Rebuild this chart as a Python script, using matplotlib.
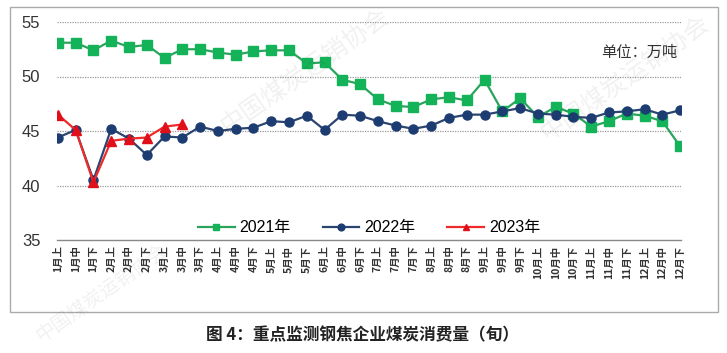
import matplotlib
matplotlib.use('Agg')
import matplotlib.pyplot as plt
import matplotlib.patches as patches

# ==========================================
# DATA
# ==========================================

months = ['1', '2', '3', '4', '5', '6', '7', '8', '9', '10', '11', '12']
parts = ['上', '中', '下']
labels = [m + '月' + p for m in months for p in parts]

y2021 = [53.1, 53.1, 52.4, 53.3, 52.7, 52.9, 51.7, 52.5, 52.5, 52.2, 52.0, 52.3,
         52.4, 52.4, 51.2, 51.3, 49.7, 49.3, 47.9, 47.3, 47.2, 47.9, 48.1, 47.8,
         49.7, 46.8, 48.0, 46.3, 47.2, 46.6, 45.4, 45.9, 46.6, 46.4, 45.9, 43.6]

y2022 = [44.4, 45.1, 40.5, 45.2, 44.3, 42.8, 44.5, 44.4, 45.4, 45.0, 45.2, 45.3,
         45.9, 45.8, 46.4, 45.1, 46.5, 46.4, 45.9, 45.5, 45.2, 45.5, 46.2, 46.5,
         46.5, 46.8, 47.1, 46.6, 46.5, 46.3, 46.2, 46.7, 46.8, 47.0, 46.5, 46.9]

y2023 = [46.5, 45.1, 40.3, 44.1, 44.3, 44.4, 45.4, 45.6]

yticks = [35, 40, 45, 50, 55]

plt.rcParams['font.family'] = ['Liberation Sans', 'Noto Sans CJK SC', 'DejaVu Sans']

# ==========================================
# FIGURE
# ==========================================

fig = plt.figure(figsize=(7.27, 3.53), dpi=100)
ax = fig.add_axes([57 / 727, 1 - 240 / 353, (681 - 57) / 727, (240 - 22) / 353])

x = list(range(len(labels)))

ax.plot(x, y2021, color='#2aa45c', lw=1.6, marker='s', ms=6.5,
        mfc='#14b35a', mec='#14b35a', label='2021年', zorder=3)
ax.plot(x, y2022, color='#2b4470', lw=1.6, marker='o', ms=6.5,
        mfc='#1c3c72', mec='#1c3c72', label='2022年', zorder=4)
ax.plot(x[:len(y2023)], y2023, color='#ee2a2a', lw=1.6, marker='^', ms=6.5,
        mfc='#e0101a', mec='#e0101a', label='2023年', zorder=5)

ax.set_xlim(-0.05, 35.05)
ax.set_ylim(35, 55)
ax.set_yticks(yticks)
ax.set_xticks(x)
ax.set_xticklabels(labels, rotation=90, fontsize=7.5, fontweight='bold',
                   color='#333333', family=['Noto Sans CJK SC', 'DejaVu Sans'])
ax.tick_params(axis='x', length=0, pad=4)
ax.tick_params(axis='y', length=0, pad=12, labelsize=12, labelcolor='#333333')

for v in yticks[1:]:
    ax.axhline(v, color='#999999', lw=0.9, ls=(0, (1, 1)), zorder=1)

for s in ['top', 'right', 'left']:
    ax.spines[s].set_visible(False)
ax.spines['bottom'].set_color('#888888')
ax.spines['bottom'].set_linewidth(1.0)

ax.legend(loc='lower center', bbox_to_anchor=(0.5, -0.045), ncol=3, frameon=False,
          fontsize=11.5, handlelength=2.3, columnspacing=2.0, handletextpad=0.3,
          markerscale=0.75)

# unit
ax.text(0.995, 0.86, '单位：万吨', transform=ax.transAxes, ha='right', va='center',
        fontsize=11, color='#333333', family=['Noto Sans CJK SC'])

# outer frame
fig.add_artist(patches.Rectangle((10 / 727, 1 - 312 / 353), 708 / 727, 305 / 353,
                                 transform=fig.transFigure, fill=False,
                                 ec='#aaaaaa', lw=1.0))

# caption
fig.text(362 / 727, 1 - 335 / 353, '图 4：重点监测钢焦企业煤炭消费量（旬）',
         ha='center', va='center', fontsize=12, fontweight='bold', color='#222222',
         family=['Noto Sans CJK SC'])

# faint watermarks
for wx, wy, fs in [(0.42, 0.80, 18), (0.14, 0.17, 14), (0.86, 0.78, 18)]:
    fig.text(wx, wy, '中国煤炭运销协会', ha='center', va='center', fontsize=fs,
             color='#000000', alpha=0.06, rotation=35, family=['Noto Sans CJK SC'])

fig.savefig('out.png', dpi=100)
